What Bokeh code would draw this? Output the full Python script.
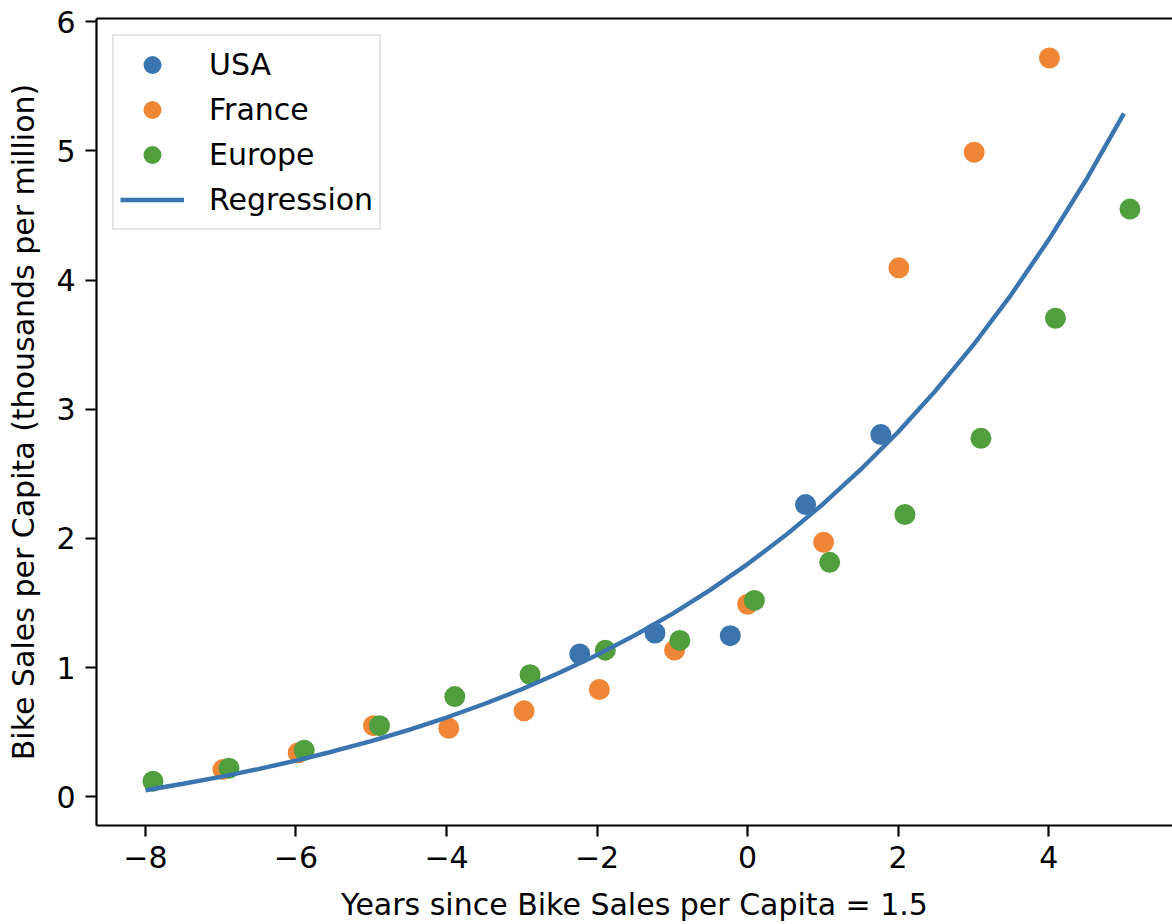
from bokeh.plotting import figure
from bokeh.models import (Range1d, FixedTicker, LinearAxis, Legend, LegendItem)
from bokeh.embed import file_html
from bokeh.resources import INLINE

# ---- data ----
usa_x = [-2.23, -1.23, -0.23, 0.77, 1.77]
usa_y = [1.105, 1.268, 1.247, 2.262, 2.804]

france_x = [-6.97, -5.97, -4.97, -3.97, -2.97, -1.97, -0.97, 0.0, 1.01, 2.01, 3.01, 4.01]
france_y = [0.21, 0.34, 0.55, 0.53, 0.665, 0.83, 1.135, 1.49, 1.97, 4.095, 4.99, 5.72]

europe_x = [-7.9, -6.89, -5.89, -4.89, -3.89, -2.89, -1.89, -0.9, 0.09, 1.09, 2.09, 3.1, 4.09, 5.08]
europe_y = [0.12, 0.22, 0.36, 0.55, 0.775, 0.945, 1.135, 1.21, 1.52, 1.815, 2.185, 2.775, 3.705, 4.55]

reg_x = [-8, -7.5, -7, -6.5, -6, -5.5, -5, -4.5, -4, -3.5, -3, -2.5, -2, -1.5,
         -1, -0.5, 0, 0.5, 1, 1.5, 2, 2.5, 3, 3.5, 4, 4.5, 5]
reg_y = [0.050, 0.100, 0.154, 0.214, 0.280, 0.352, 0.431, 0.518, 0.613, 0.718,
         0.832, 0.959, 1.097, 1.249, 1.416, 1.600, 1.801, 2.022, 2.265, 2.532,
         2.824, 3.146, 3.498, 3.886, 4.312, 4.779, 5.292]

x_ticks = [-8, -6, -4, -2, 0, 2, 4]
x_tick_labels = ["\u22128", "\u22126", "\u22124", "\u22122", "0", "2", "4"]
y_ticks = [0, 1, 2, 3, 4, 5, 6]
y_tick_labels = ["0", "1", "2", "3", "4", "5", "6"]

series_names = ["USA", "France", "Europe", "Regression"]
c_blue = "#3b75af"
c_orange = "#ef8636"
c_green = "#519e3e"

FONT = "DejaVu Sans"
FS = "30px"

p = figure(width=1172, height=924, output_backend="svg", toolbar_location=None,
           x_range=Range1d(-8.65, 5.645), y_range=Range1d(-0.223, 6.026),
           min_border_left=96, min_border_right=0, min_border_top=18,
           min_border_bottom=98)
p.outline_line_color = None
p.xgrid.visible = False
p.ygrid.visible = False
p.background_fill_color = "white"
p.border_fill_color = "white"

for ax, ticks, labels in ((p.xaxis[0], x_ticks, x_tick_labels),
                          (p.yaxis[0], y_ticks, y_tick_labels)):
    ax.ticker = FixedTicker(ticks=ticks)
    ax.major_label_overrides = {t: l for t, l in zip(ticks, labels)}
    ax.major_tick_out = 11
    ax.major_tick_in = 0
    ax.minor_tick_out = 0
    ax.minor_tick_in = 0
    ax.major_tick_line_width = 2.2
    ax.axis_line_width = 2.2
    ax.axis_line_color = "black"
    ax.major_tick_line_color = "black"
    ax.major_label_text_font = FONT
    ax.major_label_text_font_size = FS
    ax.major_label_text_color = "black"
    ax.axis_label_text_font = FONT
    ax.axis_label_text_font_size = FS
    ax.axis_label_text_font_style = "normal"
    ax.axis_label_text_color = "black"

p.xaxis[0].axis_label = "Years since Bike Sales per Capita = 1.5"
p.yaxis[0].axis_label = "Bike Sales per Capita (thousands per million)"
p.xaxis[0].major_label_standoff = 9
p.yaxis[0].major_label_standoff = 10
p.xaxis[0].axis_label_standoff = 16
p.yaxis[0].axis_label_standoff = 12

top = LinearAxis(ticker=FixedTicker(ticks=[]), axis_line_width=2.2,
                 axis_line_color="black", major_tick_out=0, major_tick_in=0,
                 minor_tick_out=0, minor_tick_in=0,
                 major_label_text_font_size="0px")
p.add_layout(top, "above")

r_usa = p.scatter(usa_x, usa_y, size=21, fill_color=c_blue, line_color=None)
r_fr = p.scatter(france_x, france_y, size=21, fill_color=c_orange, line_color=None)
r_eu = p.scatter(europe_x, europe_y, size=21, fill_color=c_green, line_color=None)
r_reg = p.line(reg_x, reg_y, line_color=c_blue, line_width=4.4)

legend = Legend(items=[LegendItem(label=series_names[0], renderers=[r_usa]),
                       LegendItem(label=series_names[1], renderers=[r_fr]),
                       LegendItem(label=series_names[2], renderers=[r_eu]),
                       LegendItem(label=series_names[3], renderers=[r_reg])],
                location="top_left", margin=16, padding=6,
                glyph_width=64, glyph_height=45, spacing=0,
                label_standoff=25, label_text_font=FONT, label_text_font_size=FS,
                label_text_color="black",
                border_line_color="#cccccc", border_line_width=2,
                background_fill_color="white", background_fill_alpha=0.8)
p.add_layout(legend, "center")

open("out.html", "w").write(file_html(p, INLINE))
